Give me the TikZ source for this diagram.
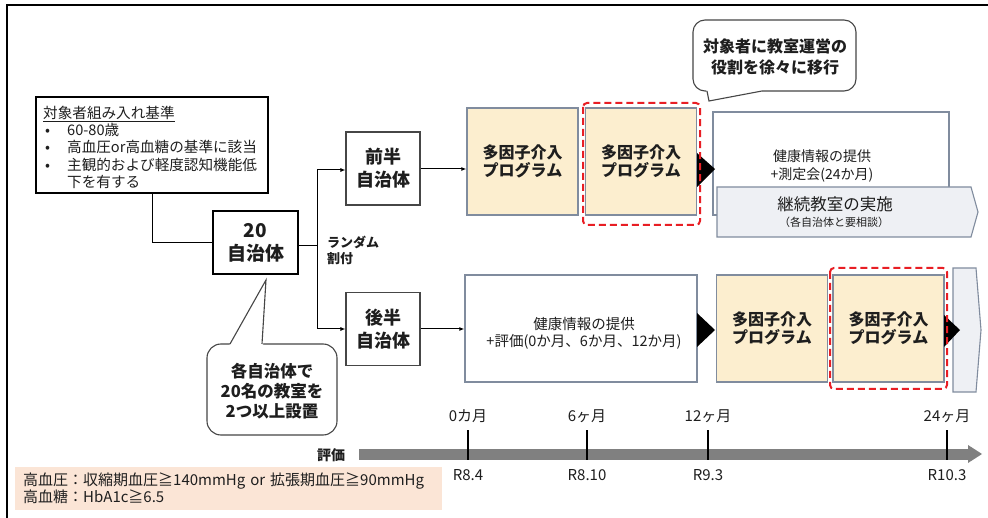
\documentclass[tikz,border=0pt]{standalone}
\usepackage{fontspec}
\setmainfont{Noto Sans CJK JP}
\usetikzlibrary{arrows.meta}
\definecolor{bgray}{RGB}{128,140,158}
\definecolor{beige}{RGB}{252,238,207}
\definecolor{dred}{RGB}{232,30,36}
\definecolor{lgray}{RGB}{238,240,244}
\definecolor{notefill}{RGB}{251,229,214}
\definecolor{tlgray}{RGB}{128,128,128}
\definecolor{txt}{RGB}{30,30,30}
\definecolor{dgray}{RGB}{70,70,70}
\newcommand\setfs[2]{\fontsize{#1}{#2}\selectfont}
\begin{document}
\begin{tikzpicture}[x=1pt,y=-1pt,
  every node/.style={text=txt},
  blk/.style={draw=black,line width=1.2pt,fill=white,align=center,inner sep=0pt},
  jbox/.style={draw=dgray,line width=1.1pt,fill=white,align=center,inner sep=0pt,
    minimum width=74pt,minimum height=73pt,font=\setfs{18}{23}\bfseries},
  mbox/.style={draw=bgray,line width=1.3pt,fill=beige,align=center,inner sep=0pt,
    minimum width=111pt,minimum height=107pt,font=\setfs{16}{18.5}\bfseries},
  hbox/.style={draw=bgray,line width=1.3pt,fill=white,inner sep=0pt},
  plain/.style={align=center,inner sep=0pt},
  redd/.style={draw=dred,line width=2pt,dash pattern=on 7pt off 4pt,rounded corners=4pt},
  conn/.style={line width=1pt,draw=black,-{Latex[length=5pt,width=4pt]}},
  line/.style={line width=1pt,draw=black},
  bub/.style={draw=dgray,line width=1.1pt,fill=white},
  tick/.style={line width=1.4pt,draw=black},
  tlab/.style={inner sep=0pt,font=\setfs{15}{17}},
]
\useasboundingbox (0,0) rectangle (988,518);
\fill[white] (0,0) rectangle (988,518);
% outer frame
\draw[line width=2.5pt,black] (7,518) -- (7,5) -- (988,5);

% criteria box
\node[draw=black,line width=1.4pt,fill=white,minimum width=232pt,minimum height=96pt,inner sep=0pt] (crit) at (152,145) {};
\node[anchor=north west,inner sep=0pt,align=left,font=\setfs{14.6}{17.2}] (critt) at (43,106)
  {\underline{対象者組み入れ基準}\\
   \makebox[24pt][l]{\hspace{2pt}•}60-80歳\\
   \makebox[24pt][l]{\hspace{2pt}•}高血圧or高血糖の基準に該当\\
   \makebox[24pt][l]{\hspace{2pt}•}主観的および軽度認知機能低\\
   \hspace*{24pt}下を有する};

% 20 municipalities
\node[blk,minimum width=85pt,minimum height=63pt,font=\setfs{19}{23}\bfseries] (n20) at (255.5,242.5) {20\\自治体};
\draw[line] (crit.south) |- (n20.west);

% split
\node[jbox] (zen) at (383,168.5) {前半\\自治体};
\node[jbox] (kou) at (383,329) {後半\\自治体};
\coordinate (split) at (317,246);
\draw[line] (n20.east |- split) -- (split);
\draw[conn] (split) |- (zen.west |- 0,170);
\draw[conn] (split) |- (kou.west);
\node[anchor=west,align=left,inner sep=0pt,font=\setfs{13}{16}\bfseries] (rand) at (327,250) {ランダム\\割付};

% top row
\node[mbox] (m1) at (522.5,161.5) {多因子介入\\プログラム};
\node[mbox] (m2) at (641,161.5) {多因子介入\\プログラム};
\draw[conn] (zen.east |- 0,169) -- (m1.west |- 0,169);
\node[hbox,minimum width=236pt,minimum height=103pt] (h1) at (831,163.5) {};
\node[plain,font=\setfs{14}{18}] (h1t) at (822,166) {健康情報の提供\\+測定会(24か月)};
\draw[draw=bgray,line width=1.1pt,fill=lgray] (717,187) -- (971,187) -- (978,212) -- (971,237) -- (717,237) -- cycle;
\node[plain,font=\setfs{16.5}{18}] (kz) at (835,204) {継続教室の実施};
\node[plain,font=\setfs{11}{13}] (kzs) at (834,222) {（各自治体と要相談）};
\fill[black] (697,153) -- (715,169) -- (697,187) -- cycle;
\draw[redd] (583,103) rectangle (700,225);

% top bubble
\draw[bub,rounded corners=12pt] (762,91) -- (856,91) -- (856,20) -- (693,20) -- (693,91) -- (707,91);
\fill[white] (706,89) -- (709,101) -- (763,89) -- cycle;
\draw[bub,line join=miter] (707,91) -- (709,101) -- (762,91);
\node[plain,font=\setfs{16}{21}\bfseries] (bubt) at (775,57) {対象者に教室運営の\\役割を徐々に移行};

% bottom row
\node[hbox,minimum width=232pt,minimum height=107pt] (h2) at (581,328.5) {};
\node[plain,font=\setfs{14.5}{17}] (h2t) at (584,333) {健康情報の提供\\+評価(0か月、6か月、12か月)};
\draw[conn] (kou.east) -- (kou.east -| h2.west);
\node[mbox] (m3) at (772,328.5) {多因子介入\\プログラム};
\node[mbox] (m4) at (888.5,328.5) {多因子介入\\プログラム};
\draw[draw=bgray,line width=1.1pt,fill=lgray] (953,268) -- (976,268) -- (981,330) -- (976,392) -- (953,392) -- cycle;
\fill[black] (697,313) -- (715,330) -- (697,347) -- cycle;
\fill[black] (944,315) -- (960,330) -- (944,347) -- cycle;
\draw[redd] (830,268) rectangle (947,389);

% bottom-left bubble
\draw[bub,rounded corners=14pt] (262,344) -- (337,344) -- (337,435) -- (207,435) -- (207,344) -- (230,344);
\fill[white] (229,346) -- (266,280) -- (263,346) -- cycle;
\draw[bub,line join=miter] (230,344) -- (266,280) -- (262,344);
\node[plain,font=\setfs{16.5}{20}\bfseries] (bubb) at (272,391) {各自治体で\\20名の教室を\\2つ以上設置};

% timeline
\node[inner sep=0pt,font=\setfs{14}{16}\bfseries] (hyoka) at (331,455) {評価};
\fill[tlgray] (359,448.5) rectangle (970,459.5);
\fill[tlgray] (968,445) -- (982,454) -- (968,463) -- cycle;
\foreach \x/\top/\bot [count=\i] in {468/0カ月/R8.4, 587/6ヶ月/R8.10, 708/12ヶ月/R9.3, 947/24ヶ月/R10.3}{
  \node[tlab] (tt\i) at (\x,416) {\top};
  \node[tlab] (tb\i) at (\x,475) {\bot};
  \draw[tick] (\x,430) -- (\x,460);
}

% note
\node[fill=notefill,anchor=north west,text width=411pt,inner xsep=8pt,inner ysep=0pt,
  minimum height=43pt,align=left,font=\setfs{15}{17}] (note) at (15,467)
  {高血圧：収縮期血圧≧140mmHg or 拡張期血圧≧90mmHg\\高血糖：HbA1c≧6.5};
\end{tikzpicture}
\end{document}
